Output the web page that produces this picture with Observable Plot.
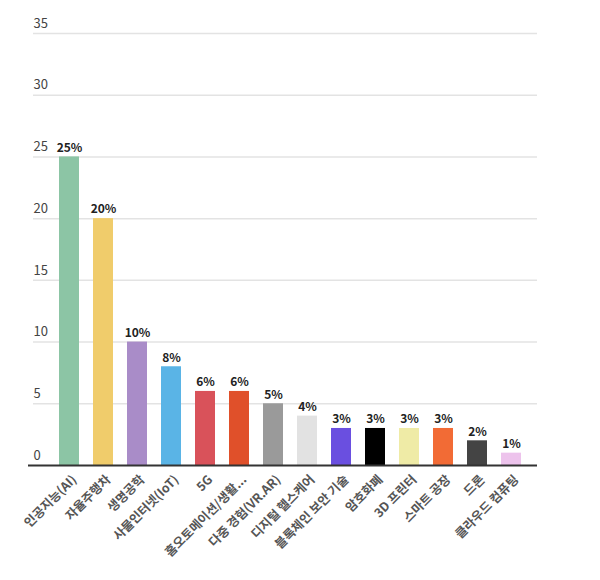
<!DOCTYPE html>
<html>
<head>
<meta charset="utf-8">
<script src="https://cdn.jsdelivr.net/npm/d3@7"></script>
<script src="https://cdn.jsdelivr.net/npm/@observablehq/plot@0.6"></script>
<style>
  html, body { margin: 0; padding: 0; background: #fff; }
  #chart { width: 600px; height: 580px; }
  svg { font-family: "Noto Sans CJK KR", "Noto Sans", sans-serif; }
</style>
</head>
<body>
<div id="chart"></div>
<script>
const categories = ["인공지능(AI)", "자율주행차", "생명공학", "사물인터넷(IoT)", "5G", "홈오토메이션/생활...", "다중 경험(VR.AR)", "디지털 헬스케어", "블록체인 보안 기술", "암호화폐", "3D 프린터", "스마트 공장", "드론", "클라우드 컴퓨팅"];
const values = [25, 20, 10, 8, 6, 6, 5, 4, 3, 3, 3, 3, 2, 1];
const colors = ["#8cc5a5", "#f0cc6b", "#a98cc8", "#5ab4e6", "#d9525a", "#e0502a", "#9a9a9a", "#e2e2e2", "#6a4fe0", "#000000", "#efeba6", "#f26b35", "#444444", "#edc3ec"];
const yTicks = [0, 5, 10, 15, 20, 25, 30, 35];

const data = categories.map((c, i) => ({cat: c, value: values[i], color: colors[i]}));

const chart = Plot.plot({
  width: 600,
  height: 580,
  marginLeft: 33,
  marginRight: 63,
  marginTop: 33,
  marginBottom: 115,
  style: {fontFamily: '"Noto Sans CJK KR", "Noto Sans", sans-serif', background: "#fff"},
  x: {domain: categories, paddingInner: 0.4, paddingOuter: 0.2, insetLeft: 17, insetRight: 6, label: null},
  y: {domain: [0, 35], label: null},
  marks: [
    Plot.ruleY(yTicks.filter(d => d > 0), {stroke: "#e3e3e3", strokeWidth: 1.5}),
    Plot.text(yTicks, {y: d => d, text: d => String(d), frameAnchor: "left", textAnchor: "start", dy: -10, fontSize: 13, fill: "#444"}),
    Plot.barY(data, {x: "cat", y: "value", fill: "color"}),
    Plot.ruleY([0], {stroke: "#333", strokeWidth: 2, insetLeft: -5}),
    Plot.text(data, {x: "cat", y: "value", text: d => d.value + "%", dy: -9, fontSize: 12, fontWeight: "bold", fill: "#222"}),
    Plot.axisX({tickRotate: -45, tickSize: 0, tickPadding: 12, dx: 5, fontSize: 12.5, fontWeight: "bold", fill: "#555", label: null}),
    Plot.axisY({ticks: [], label: null, tickSize: 0})
  ]
});
document.getElementById("chart").appendChild(chart);
</script>
</body>
</html>
